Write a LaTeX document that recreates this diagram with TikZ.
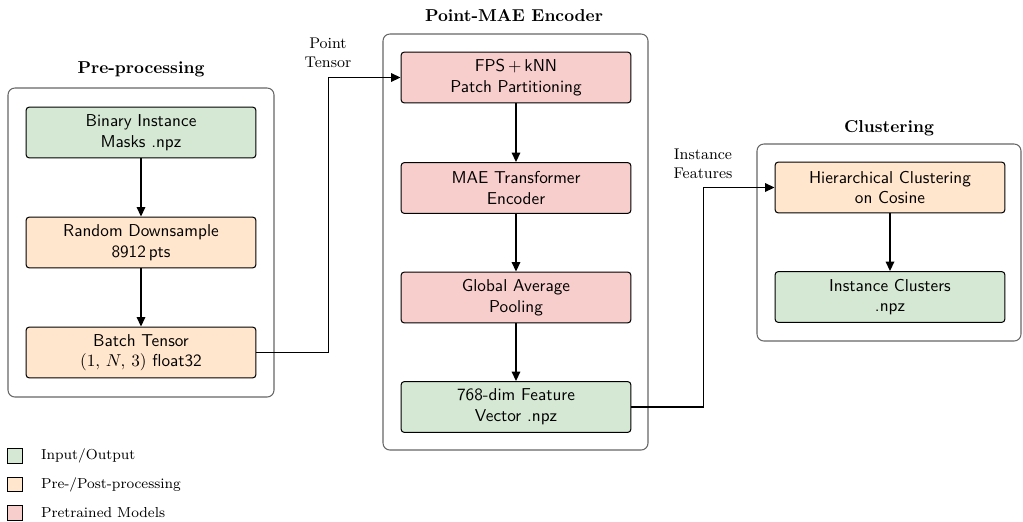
\documentclass[tikz,border=0pt]{standalone}
\usetikzlibrary{arrows.meta}
\definecolor{iocol}{HTML}{D5E8D4}
\definecolor{ppcol}{HTML}{FFE6CC}
\definecolor{pmcol}{HTML}{F8CECC}
\begin{document}
\begin{tikzpicture}[x=0.581pt,y=-0.581pt,
  box/.style={draw, rounded corners=2pt, line width=0.6pt, minimum width=133.6pt, minimum height=29.6pt, inner sep=0pt, align=center, font=\sffamily},
  io/.style={box, fill=iocol},
  pp/.style={box, fill=ppcol},
  pm/.style={box, fill=pmcol},
  container/.style={draw=black!60, rounded corners=4pt, line width=0.6pt},
  arr/.style={-{Triangle[length=5.5pt,width=5pt]}, line width=0.8pt},
  title/.style={font=\bfseries},
  lbl/.style={font=\small, align=center},
  legbox/.style={draw, line width=0.6pt, minimum size=8.5pt, inner sep=0pt},
  legtext/.style={anchor=west, font=\fontsize{8.4}{10}\selectfont}]
\useasboundingbox (0,0) rectangle (1023,521);
% containers
\draw[container] (8,88) rectangle (274,397);
\draw[container] (383,34) rectangle (648,450);
\draw[container] (757,144) rectangle (1021,341);
% titles
\node[title] (t1) at (141,69) {Pre-processing};
\node[title] (t2) at (514,16) {Point-MAE Encoder};
\node[title] (t3) at (889,128) {Clustering};
% boxes
\node[io] (bin) at (141,132.5) {Binary Instance\\Masks .npz};
\node[pp] (rand) at (141,242.5) {Random Downsample\\8912\,pts};
\node[pp] (batch) at (141,352.5) {Batch Tensor\\$(1,\,N,\,3)$ float32};
\node[pm] (fps) at (516,77.5) {FPS\,$+$\,kNN\\Patch Partitioning};
\node[pm] (mae) at (516,188) {MAE Transformer\\Encoder};
\node[pm] (gap) at (516,297.5) {Global Average\\Pooling};
\node[io] (feat) at (516,407) {768-dim Feature\\Vector .npz};
\node[pp] (hier) at (890,187.5) {Hierarchical Clustering\\on Cosine};
\node[io] (clus) at (890,297) {Instance Clusters\\.npz};
% arrows
\draw[arr] (bin) -- (rand);
\draw[arr] (rand) -- (batch);
\draw[arr] (fps) -- (mae);
\draw[arr] (mae) -- (gap);
\draw[arr] (gap) -- (feat);
\draw[arr] (hier) -- (clus);
\draw[arr] (batch.east) -- ++(72,0) |- (fps.west);
\draw[arr] (feat.east) -- ++(72,0) |- (hier.west);
% edge labels
\node[lbl] (ptl) at (328,53) {Point\\Tensor};
\node[lbl] (ifl) at (703,164) {Instance\\Features};
% legend
\node[legbox, fill=iocol] (l1) at (15,456) {};
\node[legtext] (l1t) at (35,456) {Input/Output};
\node[legbox, fill=ppcol] (l2) at (15,484.5) {};
\node[legtext] (l2t) at (35,484.5) {Pre-/Post-processing};
\node[legbox, fill=pmcol] (l3) at (15,513) {};
\node[legtext] (l3t) at (35,513) {Pretrained Models};
\end{tikzpicture}
\end{document}
